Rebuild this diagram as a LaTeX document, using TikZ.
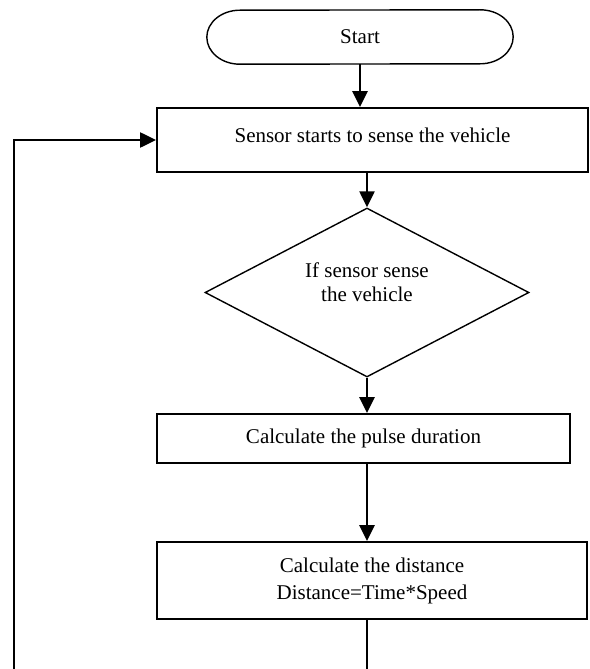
\documentclass[tikz,border=0pt]{standalone}
\usepackage{fontspec}
\setmainfont{Liberation Serif}
\usetikzlibrary{shapes.geometric,arrows.meta}
\begin{document}
\begin{tikzpicture}[x=1pt,y=-1pt,
  every node/.style={font=\fontsize{21}{24}\selectfont, inner sep=0pt},
  procbox/.style={draw, line width=1.8pt, rectangle},
  termbox/.style={rectangle},
  termline/.style={line width=1.4pt},
  decbox/.style={draw, line width=1.4pt, diamond, aspect=1.92},
  flow/.style={line width=2.4pt, -{Triangle[length=16pt,width=15pt]}},
  plainline/.style={line width=2.2pt}]
\useasboundingbox (0,0) rectangle (589,669);
\node[termbox, minimum width=306pt, minimum height=54pt] (start) at (360,37) {Start};
\draw[termline] ([xshift=-33pt]start.north east) arc[start angle=90, end angle=-90, x radius=33pt, y radius=27pt]
  -- ([xshift=33pt]start.south west) arc[start angle=270, end angle=90, x radius=33pt, y radius=27pt] -- cycle;
\node[procbox, minimum width=431pt, minimum height=64pt] (sense) at (372.5,140) {};
\node (senseT) at (372.5,135) {Sensor starts to sense the vehicle};
\node[decbox, minimum width=324pt, minimum height=169pt] (dec) at (367,292.5) {};
\node[align=center] (decT) at (367,282) {If sensor sense\\the vehicle};
\node[procbox, minimum width=413pt, minimum height=49pt] (pulse) at (363.5,438.5) {Calculate the pulse duration};
\node[procbox, minimum width=430pt, minimum height=77pt, align=center, font=\fontsize{21}{27}\selectfont] (dist) at (372,580.5) {Calculate the distance\\Distance=Time*Speed};
\coordinate (botR) at (366,669);
\coordinate (botL) at (14,669);
\draw[flow] (start.south) -- (start.south |- sense.north);
\draw[flow] (dec.north |- sense.south) -- (dec.north);
\draw[flow] (dec.south) -- (dec.south |- pulse.north);
\draw[flow] (dec.south |- pulse.south) -- (dec.south |- dist.north);
\draw[plainline] (dec.south |- dist.south) -- (dec.south |- botR);
\draw[plainline, -{Triangle[length=16pt,width=15pt]}] (botL) -- (botL |- sense.west) -- (sense.west);
\end{tikzpicture}
\end{document}
